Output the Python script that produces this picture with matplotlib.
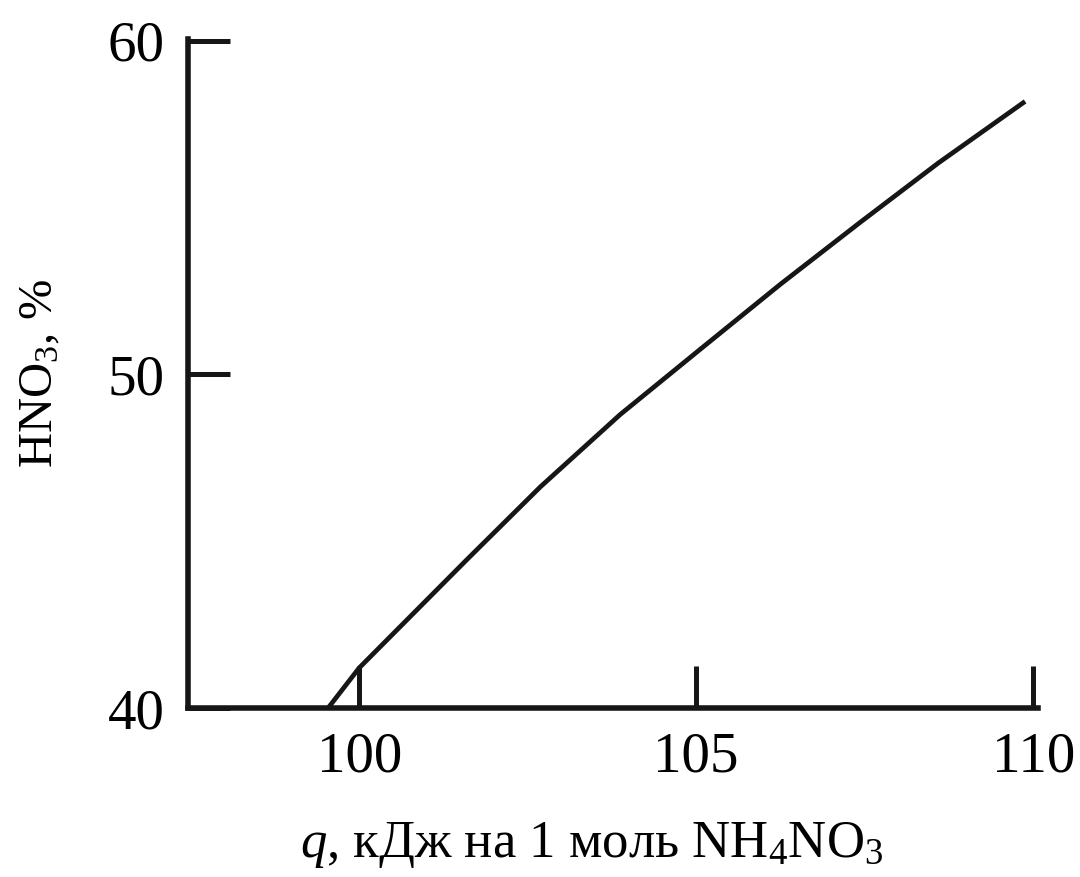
import matplotlib
matplotlib.use('Agg')
import matplotlib.pyplot as plt

# values
q = [99.54, 100.0, 101.60, 102.69, 103.87, 105.06, 106.25, 107.43, 108.59, 109.88]
hno3 = [40.0, 41.2, 44.45, 46.63, 48.79, 50.75, 52.70, 54.55, 56.33, 58.18]

x_ticks = [100, 105, 110]
y_ticks = [40, 50, 60]

plt.rcParams['font.family'] = ['Liberation Serif', 'DejaVu Serif']
plt.rcParams['mathtext.fontset'] = 'custom'
plt.rcParams['mathtext.rm'] = 'Liberation Serif'
plt.rcParams['mathtext.it'] = 'Liberation Serif:italic'

fig = plt.figure(figsize=(10.8, 8.77), dpi=100)
ax = fig.add_axes([0.174, 0.1927, 0.787, 0.7628])

ax.plot(q, hno3, color='#161616', linewidth=3.4, solid_capstyle='butt',
        solid_joinstyle='round')

ax.set_xlim(97.46, 110.07)
ax.set_ylim(40, 60.05)

ax.spines['top'].set_visible(False)
ax.spines['right'].set_visible(False)
for s in ['left', 'bottom']:
    ax.spines[s].set_linewidth(4.0)
    ax.spines[s].set_color('#161616')
    ax.spines[s].set_capstyle('projecting')

ax.set_xticks(x_ticks)
ax.set_yticks(y_ticks)
ax.tick_params(direction='in', length=30, width=3.6, color='#161616',
               labelsize=41, pad=17)

ax.set_xlabel(r'$q$, кДж на 1 моль NH$_4$NO$_3$', fontsize=38)
ax.xaxis.set_label_coords(0.475, -0.205)
ax.xaxis.label.set_va('center')

ax.set_ylabel('HNO$_3$, %', fontsize=35)
ax.yaxis.set_label_coords(-0.174, 0.5)
ax.yaxis.label.set_va('center')

fig.savefig('out.png', dpi=100)
